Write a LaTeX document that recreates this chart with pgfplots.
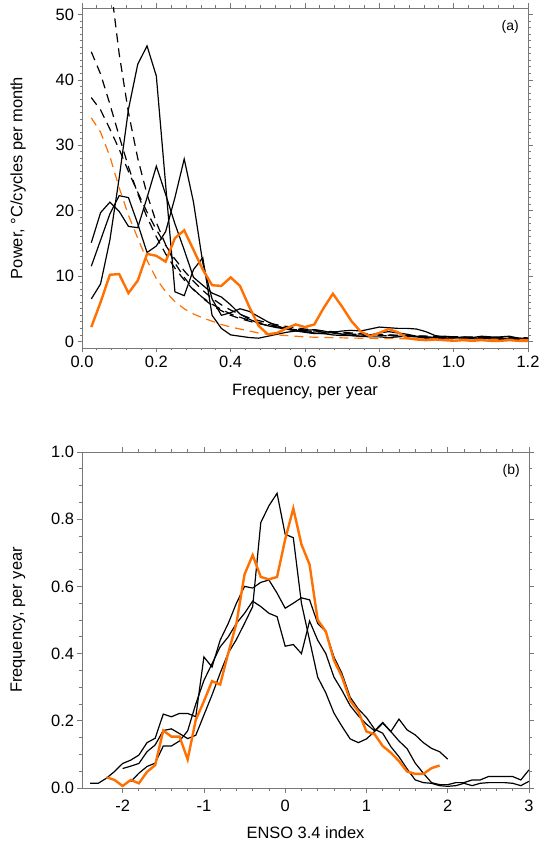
\documentclass[border=0pt]{standalone}
\usepackage{fontspec}
\setmainfont{Liberation Sans}
\usepackage{pgfplots}
\usepackage{pgfplotstable}
\pgfplotsset{compat=1.18}
\definecolor{obs}{RGB}{255,112,0}
\definecolor{axisgray}{RGB}{120,120,120}

% power spectra: three models (A,B,C), their red-noise fits (D1-D3), observations (Ob) and its fit (Of)
\pgfplotstableread{
f      A     B     C     D1    D2    D3    Ob    Of
0.025  6.5   11.5  15.1  79    44.3  37.3  2.2   34.2
0.050  8.8   15.5  19.7  68    40.9  35.4  6.0   32.0
0.075  15.5  19.5  21.3  55.5  36.3  32.5  10.2  28.3
0.100  25.0  22.3  19.9  44    31.4  29.4  10.3  23.5
0.125  35.5  22.0  17.6  35    26.7  26.0  7.4   19.3
0.150  42.4  18.0  17.4  28    22.6  22.8  9.3   15.8
0.175  45.2  13.6  22.0  22.5  19.0  19.8  13.4  12.4
0.200  40.6  14.6  26.8  18.2  16.0  17.1  13.1  9.6
0.225  24.0  16.8  22.5  14.8  13.4  14.7  12.2  7.6
0.250  7.6   22.0  18.0  12.0  11.2  12.6  15.8  6.1
0.275  7.0   27.9  14.0  9.8   9.4   10.8  17.0  5.0
0.300  11.0  21.3  9.8   8.0   7.9   9.2   14.0  4.2
0.325  12.8  12.0  8.6   6.6   6.7   7.8   11.0  3.6
0.350  4.0   6.5   7.4   5.5   5.7   6.6   8.6   3.1
0.375  2.0   4.0   6.8   4.7   4.9   5.6   8.5   2.6
0.400  1.0   4.4   5.6   4.0   4.2   4.8   9.8   2.2
0.425  0.8   5.0   4.2   3.5   3.7   4.15  8.5   1.9
0.450  0.6   4.6   3.4   3.1   3.25  3.6   5.3   1.6
0.475  0.5   3.8   2.8   2.75  2.9   3.2   2.4   1.3
0.500  0.8   3.0   2.4   2.45  2.6   2.85  1.1   1.1
0.525  1.1   2.4   2.1   2.2   2.35  2.55  1.3   1.0
0.550  1.4   1.9   1.9   2.0   2.1   2.3   2.0   0.9
0.575  1.6   1.6   1.7   1.8   1.9   2.1   2.6   0.8
0.600  1.7   1.4   1.5   1.65  1.75  1.9   2.2   0.7
0.625  1.8   1.2   1.3   1.5   1.6   1.75  2.6   0.65
0.650  1.6   1.2   1.2   1.4   1.5   1.6   5.1   0.6
0.675  1.3   1.4   1.0   1.3   1.4   1.5   7.3   0.58
0.700  1.1   1.6   0.9   1.2   1.3   1.38  5.3   0.55
0.725  0.9   1.7   0.9   1.12  1.2   1.3   3.1   0.52
0.750  0.8   1.6   0.8   1.05  1.13  1.2   1.5   0.5
0.775  1.0   1.9   0.7   0.98  1.06  1.13  0.8   0.48
0.800  1.3   2.2   0.7   0.92  1.0   1.06  1.3   0.45
0.825  1.5   2.1   0.6   0.87  0.95  1.0   1.9   0.44
0.850  1.3   2.0   0.7   0.82  0.9   0.95  1.4   0.42
0.875  1.1   2.0   0.8   0.78  0.85  0.9   0.5   0.41
0.900  0.8   1.9   0.7   0.74  0.81  0.86  0.3   0.4
0.925  0.6   1.5   0.5   0.7   0.77  0.82  0.2   0.38
0.950  0.5   0.9   0.6   0.67  0.74  0.78  0.3   0.37
0.975  0.4   0.7   0.8   0.64  0.71  0.75  0.2   0.36
1.000  0.5   0.6   0.7   0.62  0.68  0.72  0.1   0.35
1.025  0.7   0.5   0.5   0.59  0.65  0.7   0.2   0.34
1.050  0.5   0.6   0.4   0.57  0.63  0.67  0.1   0.33
1.075  0.4   0.8   0.5   0.55  0.6   0.64  0.2   0.33
1.100  0.6   0.7   0.4   0.53  0.58  0.62  0.1   0.32
1.125  0.5   0.7   0.3   0.51  0.56  0.6   0.1   0.31
1.150  0.3   0.8   0.4   0.5   0.55  0.58  0.2   0.3
1.175  0.4   0.5   0.3   0.48  0.53  0.56  0.1   0.3
1.200  0.2   0.4   0.2   0.47  0.51  0.55  0.1   0.29
}\spec

\pgfplotsset{
  idl/.style={
    scale only axis,
    axis line style={axisgray, line width=0.8bp},
    tick style={axisgray, line width=0.8bp},
    tick align=outside,
    major tick length=4.5bp,
    minor tick length=2.5bp,
    /pgf/number format/assume math mode=true,
    tick label style={font=\fontsize{16.5}{20}\selectfont, black},
    label style={font=\fontsize{16.5}{20}\selectfont},
    every axis y label/.style={at={(axis description cs:-0.1435,0.5)}, rotate=90, anchor=center,
      font=\fontsize{16.5}{20}\selectfont},
  },
  model/.style={black, line width=1.2bp},
  fit/.style={black, line width=1.2bp, dash pattern=on 9bp off 6bp},
  obsline/.style={obs, line width=2.4bp},
  obsfit/.style={obs, line width=1.2bp, dash pattern=on 9bp off 6bp},
}

\begin{document}
\begin{tikzpicture}
\useasboundingbox (0,0) rectangle (551bp,845bp);

\begin{axis}[idl,
  at={(82bp,497bp)}, anchor=south west,
  width=446bp, height=340bp,
  xmin=0, xmax=1.2, ymin=-1, ymax=51,
  xtick={0,0.2,0.4,0.6,0.8,1.0,1.2}, minor x tick num=4,
  ytick={0,10,20,30,40,50}, minor y tick num=9,
  xticklabel style={/pgf/number format/.cd, fixed, fixed zerofill, precision=1},
  xlabel={Frequency, per year},
  ylabel={Power, °C/cycles per month},
  xlabel style={at={(axis description cs:0.5,-0.129)}, anchor=center},
]
\addplot[fit] table[x=f, y=D1] {\spec};
\addplot[fit] table[x=f, y=D2] {\spec};
\addplot[fit] table[x=f, y=D3] {\spec};
\addplot[model] table[x=f, y=A] {\spec};
\addplot[model] table[x=f, y=B] {\spec};
\addplot[model] table[x=f, y=C] {\spec};
\addplot[obsfit] table[x=f, y=Of] {\spec};
\addplot[obsline] table[x=f, y=Ob] {\spec};
\node[anchor=east, font=\fontsize{14}{16}\selectfont] at (rel axis cs:0.987,0.944) {(a)};
\end{axis}

\begin{axis}[idl,
  at={(82bp,57bp)}, anchor=south west,
  width=447bp, height=336bp,
  xmin=-2.5, xmax=3, ymin=0, ymax=1,
  xtick={-2,-1,0,1,2,3}, minor x tick num=4,
  xticklabel style={yshift=-4bp},
  ytick={0,0.2,0.4,0.6,0.8,1.0}, minor y tick num=3,
  yticklabel style={/pgf/number format/.cd, fixed, fixed zerofill, precision=1},
  xlabel={ENSO 3.4 index},
  ylabel={Frequency, per year},
  xlabel style={at={(axis description cs:0.5,-0.134)}, anchor=center},
]
% model 1 (tallest peak)
\addplot[model] coordinates {
(-2.0,0.058) (-1.9,0.065) (-1.8,0.073) (-1.7,0.108) (-1.6,0.128) (-1.5,0.171)
(-1.4,0.176) (-1.3,0.162) (-1.2,0.147) (-1.1,0.157) (-1.0,0.217) (-0.9,0.277)
(-0.8,0.342) (-0.7,0.402) (-0.6,0.442) (-0.5,0.49) (-0.4,0.54) (-0.3,0.79)
(-0.2,0.84) (-0.1,0.877) (0.0,0.755) (0.1,0.745) (0.2,0.55) (0.3,0.44)
(0.4,0.33) (0.5,0.283) (0.6,0.223) (0.7,0.183) (0.8,0.146) (0.9,0.135)
(1.0,0.146) (1.1,0.168) (1.2,0.193) (1.3,0.168) (1.4,0.205) (1.5,0.173)
(1.6,0.158) (1.7,0.135) (1.8,0.118) (1.9,0.108) (2.0,0.086)
};
% model 2 (broad plateau)
\addplot[model] coordinates {
(-2.4,0.014) (-2.3,0.014) (-2.2,0.029) (-2.1,0.049) (-2.0,0.073) (-1.9,0.083)
(-1.8,0.098) (-1.7,0.135) (-1.6,0.148) (-1.5,0.22) (-1.4,0.212) (-1.3,0.222)
(-1.2,0.222) (-1.1,0.212) (-1.0,0.39) (-0.9,0.36) (-0.8,0.44) (-0.7,0.49)
(-0.6,0.55) (-0.5,0.60) (-0.4,0.595) (-0.3,0.612) (-0.2,0.619) (-0.1,0.58)
(0.0,0.535) (0.1,0.55) (0.2,0.566) (0.3,0.56) (0.4,0.49) (0.5,0.465)
(0.6,0.39) (0.7,0.34) (0.8,0.27) (0.9,0.235) (1.0,0.21) (1.1,0.175)
(1.2,0.163) (1.3,0.123) (1.4,0.093) (1.5,0.057) (1.6,0.024) (1.7,0.016)
(1.8,0.014) (1.9,0.007) (2.0,0.005) (2.1,0.007) (2.2,0.014) (2.3,0.007)
(2.4,0.014) (2.5,0.016) (2.6,0.016) (2.7,0.016) (2.8,0.014) (2.9,0.007) (3.0,0.02)
};
% model 3 (lowest peak)
\addplot[model] coordinates {
(-1.9,0.019) (-1.8,0.044) (-1.7,0.064) (-1.6,0.074) (-1.5,0.125) (-1.4,0.125)
(-1.3,0.14) (-1.2,0.17) (-1.1,0.25) (-1.0,0.32) (-0.9,0.37) (-0.8,0.42)
(-0.7,0.45) (-0.6,0.49) (-0.5,0.52) (-0.4,0.556) (-0.3,0.54) (-0.2,0.52)
(-0.1,0.51) (0.0,0.422) (0.1,0.427) (0.2,0.40) (0.3,0.497) (0.4,0.44)
(0.5,0.40) (0.6,0.33) (0.7,0.29) (0.8,0.245) (0.9,0.215) (1.0,0.19)
(1.1,0.17) (1.2,0.195) (1.3,0.168) (1.4,0.14) (1.5,0.117) (1.6,0.074)
(1.7,0.044) (1.8,0.016) (1.9,0.01) (2.0,0.01) (2.1,0.016) (2.2,0.016)
(2.3,0.024) (2.4,0.024) (2.5,0.034) (2.6,0.034) (2.7,0.034) (2.8,0.034)
(2.9,0.024) (3.0,0.054)
};
% observations
\addplot[obsline] coordinates {
(-2.2,0.032) (-2.1,0.024) (-2.0,0.006) (-1.9,0.024) (-1.8,0.014) (-1.7,0.048)
(-1.6,0.068) (-1.5,0.171) (-1.4,0.153) (-1.3,0.153) (-1.2,0.085) (-1.1,0.203)
(-1.0,0.258) (-0.9,0.318) (-0.8,0.308) (-0.7,0.402) (-0.6,0.49) (-0.5,0.636)
(-0.4,0.693) (-0.3,0.628) (-0.2,0.621) (-0.1,0.628) (0.0,0.74) (0.1,0.832)
(0.2,0.725) (0.3,0.665) (0.4,0.50) (0.5,0.466) (0.6,0.38) (0.7,0.33)
(0.8,0.26) (0.9,0.228) (1.0,0.168) (1.1,0.16) (1.2,0.125) (1.3,0.105)
(1.4,0.08) (1.5,0.049) (1.6,0.042) (1.7,0.042) (1.8,0.059) (1.9,0.067)
};
\node[anchor=east, font=\fontsize{14}{16}\selectfont] at (rel axis cs:0.987,0.943) {(b)};
\end{axis}
\end{tikzpicture}
\end{document}
